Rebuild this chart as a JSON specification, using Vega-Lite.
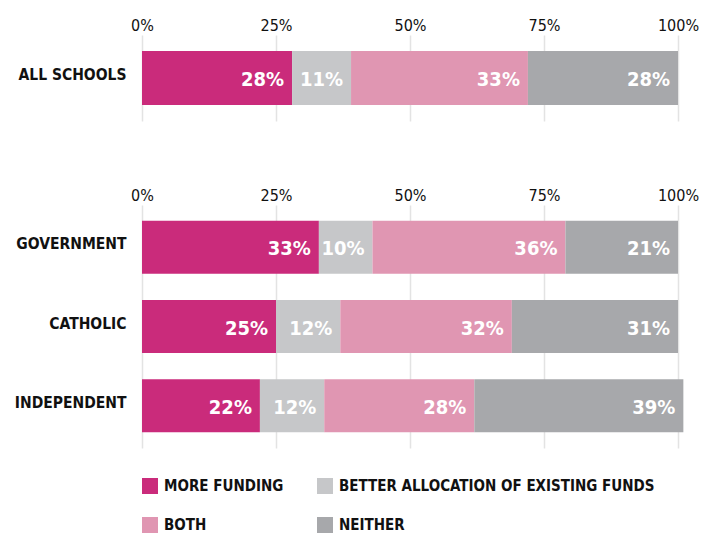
{
  "$schema": "https://vega.github.io/schema/vega-lite/v6.json",
  "padding": {"left": 5, "top": 5, "right": 5, "bottom": 0},
  "background": "white",
  "data": {"values": [
    {"panel": "top", "school": "ALL SCHOOLS", "category": "MORE FUNDING", "order": 1, "value": 0.28},
    {"panel": "top", "school": "ALL SCHOOLS", "category": "BETTER ALLOCATION OF EXISTING FUNDS", "order": 2, "value": 0.11},
    {"panel": "top", "school": "ALL SCHOOLS", "category": "BOTH", "order": 3, "value": 0.33},
    {"panel": "top", "school": "ALL SCHOOLS", "category": "NEITHER", "order": 4, "value": 0.28},
    {"panel": "bottom", "school": "GOVERNMENT", "category": "MORE FUNDING", "order": 1, "value": 0.33},
    {"panel": "bottom", "school": "GOVERNMENT", "category": "BETTER ALLOCATION OF EXISTING FUNDS", "order": 2, "value": 0.10},
    {"panel": "bottom", "school": "GOVERNMENT", "category": "BOTH", "order": 3, "value": 0.36},
    {"panel": "bottom", "school": "GOVERNMENT", "category": "NEITHER", "order": 4, "value": 0.21},
    {"panel": "bottom", "school": "CATHOLIC", "category": "MORE FUNDING", "order": 1, "value": 0.25},
    {"panel": "bottom", "school": "CATHOLIC", "category": "BETTER ALLOCATION OF EXISTING FUNDS", "order": 2, "value": 0.12},
    {"panel": "bottom", "school": "CATHOLIC", "category": "BOTH", "order": 3, "value": 0.32},
    {"panel": "bottom", "school": "CATHOLIC", "category": "NEITHER", "order": 4, "value": 0.31},
    {"panel": "bottom", "school": "INDEPENDENT", "category": "MORE FUNDING", "order": 1, "value": 0.22},
    {"panel": "bottom", "school": "INDEPENDENT", "category": "BETTER ALLOCATION OF EXISTING FUNDS", "order": 2, "value": 0.12},
    {"panel": "bottom", "school": "INDEPENDENT", "category": "BOTH", "order": 3, "value": 0.28},
    {"panel": "bottom", "school": "INDEPENDENT", "category": "NEITHER", "order": 4, "value": 0.39}
  ]},
  "spacing": 54,
  "vconcat": [
    {
      "width": 536,
      "height": 86,
      "transform": [
        {"filter": "datum.panel == 'top'"},
        {"stack": "value", "groupby": ["school"], "sort": [{"field": "order", "order": "ascending"}], "as": ["v0", "v1"]}
      ],
      "encoding": {
        "y": {"field": "school", "type": "nominal", "sort": null, "title": null,
              "scale": {"paddingInner": 0.333, "paddingOuter": 0.2}}
      },
      "layer": [
        {
          "mark": {"type": "bar"},
          "encoding": {
            "x": {"field": "v0", "type": "quantitative", "title": null, "scale": {"domain": [0, 1], "nice": false},
                  "axis": {"values": [0, 0.25, 0.5, 0.75, 1], "format": ".0%"}},
            "x2": {"field": "v1"},
            "color": {"field": "category", "type": "nominal", "title": null,
              "scale": {"domain": ["MORE FUNDING", "BETTER ALLOCATION OF EXISTING FUNDS", "BOTH", "NEITHER"],
                        "range": ["#CA2B7B", "#C6C7C9", "#E096B2", "#A7A8AB"]}}
          }
        },
        {
          "mark": {"type": "text", "align": "right", "baseline": "middle", "dx": -8, "dy": 2,
                   "font": "DejaVu Sans Condensed, Roboto", "fontSize": 20, "fontWeight": "bold", "color": "white"},
          "encoding": {
            "x": {"field": "v1", "type": "quantitative"},
            "text": {"field": "value", "type": "quantitative", "format": ".0%"}
          }
        }
      ]
    },
    {
      "width": 536,
      "height": 243,
      "transform": [
        {"filter": "datum.panel == 'bottom'"},
        {"stack": "value", "groupby": ["school"], "sort": [{"field": "order", "order": "ascending"}], "as": ["v0", "v1"]}
      ],
      "encoding": {
        "y": {"field": "school", "type": "nominal", "sort": null, "title": null,
              "scale": {"paddingInner": 0.333, "paddingOuter": 0.2}}
      },
      "layer": [
        {
          "mark": {"type": "bar"},
          "encoding": {
            "x": {"field": "v0", "type": "quantitative", "title": null, "scale": {"domain": [0, 1], "nice": false},
                  "axis": {"values": [0, 0.25, 0.5, 0.75, 1], "format": ".0%"}},
            "x2": {"field": "v1"},
            "color": {"field": "category", "type": "nominal", "title": null,
              "scale": {"domain": ["MORE FUNDING", "BETTER ALLOCATION OF EXISTING FUNDS", "BOTH", "NEITHER"],
                        "range": ["#CA2B7B", "#C6C7C9", "#E096B2", "#A7A8AB"]}}
          }
        },
        {
          "mark": {"type": "text", "align": "right", "baseline": "middle", "dx": -8, "dy": 2,
                   "font": "DejaVu Sans Condensed, Roboto", "fontSize": 20, "fontWeight": "bold", "color": "white"},
          "encoding": {
            "x": {"field": "v1", "type": "quantitative"},
            "text": {"field": "value", "type": "quantitative", "format": ".0%"}
          }
        }
      ]
    }
  ],
  "config": {
    "view": {"stroke": null},
    "axisX": {
      "orient": "top", "grid": true, "gridColor": "#E3E3E3", "gridWidth": 1.5,
      "domain": false, "ticks": false,
      "labelFont": "DejaVu Sans Condensed, Roboto", "labelFontSize": 16, "labelColor": "#111111",
      "labelPadding": 2, "minExtent": 30, "maxExtent": 30, "labelFlush": false, "labelOverlap": false
    },
    "axisY": {
      "domain": false, "ticks": false, "grid": false,
      "labelFont": "DejaVu Sans Condensed, Roboto", "labelFontSize": 15.5, "labelFontWeight": "bold",
      "labelColor": "#111111", "labelPadding": 16, "labelOffset": -3,
      "minExtent": 137, "maxExtent": 137, "labelLimit": 200
    },
    "legend": {
      "orient": "bottom", "direction": "horizontal", "columns": 2, "columnPadding": 33, "rowPadding": 23,
      "symbolType": "square", "symbolSize": 256, "symbolStrokeWidth": 0, "symbolOpacity": 1,
      "labelFont": "DejaVu Sans Condensed, Roboto", "labelFontSize": 15, "labelFontWeight": "bold",
      "labelColor": "#111111", "labelOffset": 6, "labelLimit": 400, "offset": 30
    }
  }
}
